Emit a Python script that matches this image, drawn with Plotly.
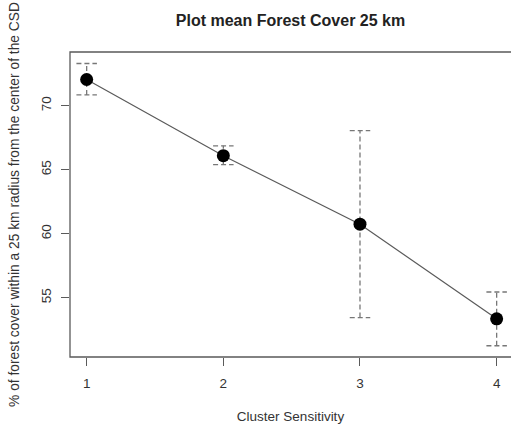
import plotly.graph_objects as go

# Data
cluster = [1, 2, 3, 4]
mean_cover = [72.05, 66.1, 60.75, 53.35]
upper = [73.3, 66.87, 68.05, 55.45]
lower = [70.85, 65.4, 53.45, 51.25]
x_ticks = [1, 2, 3, 4]
y_ticks = [55, 60, 65, 70]

CAP = 0.075
GRAY = "#5a5a5a"
FONT = "Liberation Sans, Arial, sans-serif"

fig = go.Figure()

# dashed error bars (vertical part)
ex, ey = [], []
for x, lo, hi in zip(cluster, lower, upper):
    ex += [x, x, None]
    ey += [lo, hi, None]
# caps
cx, cy = [], []
for x, lo, hi in zip(cluster, lower, upper):
    cx += [x - CAP, x + CAP, None, x - CAP, x + CAP, None]
    cy += [hi, hi, None, lo, lo, None]

fig.add_trace(go.Scatter(x=ex, y=ey, mode="lines",
                         line=dict(color="#777777", width=1.3, dash="5px,3px"),
                         hoverinfo="skip", showlegend=False))
fig.add_trace(go.Scatter(x=cx, y=cy, mode="lines",
                         line=dict(color="#777777", width=1.3, dash="5px,3px"),
                         hoverinfo="skip", showlegend=False))
fig.add_trace(go.Scatter(x=cluster, y=mean_cover, mode="lines+markers",
                         line=dict(color=GRAY, width=1.2),
                         marker=dict(color="black", size=13),
                         showlegend=False))

fig.update_layout(
    width=511, height=428,
    margin=dict(l=70, r=0, t=52, b=71),
    paper_bgcolor="white", plot_bgcolor="white",
    font=dict(family=FONT, color="#333333", size=13.5),
    title=dict(text="<b>Plot mean Forest Cover 25 km</b>", x=0.5, xref="paper",
               y=1 - 20 / 428, yanchor="middle", xanchor="center",
               font=dict(size=16, color="#222222")),
    xaxis=dict(range=[0.878, 4.105], tickvals=x_ticks, ticks="outside", ticklen=8,
               tickcolor=GRAY, tickwidth=1, showgrid=False, zeroline=False,
               showline=False, tickfont=dict(size=13.5), ticklabelstandoff=6,
               title=dict(text="Cluster Sensitivity", font=dict(size=13.5), standoff=21)),
    yaxis=dict(range=[50.37, 74.2], tickvals=y_ticks, ticks="outside", ticklen=8,
               tickcolor=GRAY, tickwidth=1, showgrid=False, zeroline=False,
               showline=False, tickangle=-90, tickfont=dict(size=13.5), ticklabelstandoff=5,
               title=dict(text="% of forest cover within a 25 km radius from the center of the CSD",
                          font=dict(size=13.8), standoff=15)),
    shapes=[dict(type="path", xref="paper", yref="paper",
                 path="M 1.01 1 L 0 1 L 0 0 L 1.01 0",
                 line=dict(color=GRAY, width=1.3))],
)

fig.write_html("out.html")
